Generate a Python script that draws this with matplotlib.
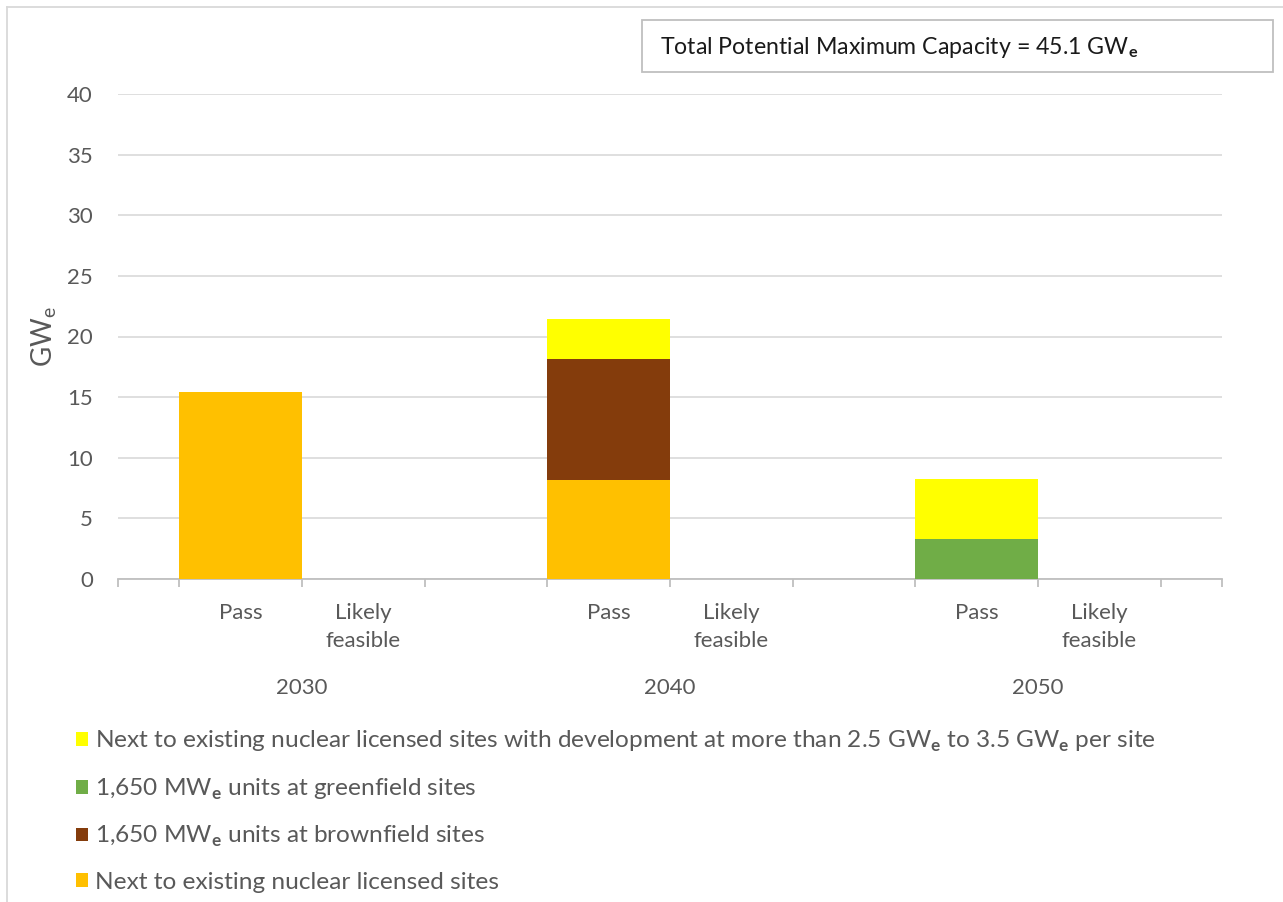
import numpy as np
import matplotlib
matplotlib.use('Agg')
from matplotlib import pyplot as plt
from matplotlib.patches import Patch, Rectangle
from matplotlib.lines import Line2D
from matplotlib.transforms import blended_transform_factory

plt.rcParams['font.family'] = ['Lato', 'DejaVu Sans']
plt.rcParams['mathtext.fontset'] = 'custom'
plt.rcParams['mathtext.rm'] = 'Lato'
plt.rcParams['mathtext.bf'] = 'Lato:bold'

years = ['2030', '2040', '2050']
cases = ['Pass', 'Likely\nfeasible']

# one value per (year, case): 2030 Pass, 2030 Likely, 2040 Pass, ...
existing_sites = [15.4, 0, 8.2, 0, 0, 0]
brownfield = [0, 0, 9.95, 0, 0, 0]
greenfield = [0, 0, 0, 0, 3.3, 0]
existing_large = [0, 0, 3.3, 0, 4.95, 0]

series_labels = [
    'Next to existing nuclear licensed sites',
    '1,650 MW$_\\mathbf{e}$ units at brownfield sites',
    '1,650 MW$_\\mathbf{e}$ units at greenfield sites',
    'Next to existing nuclear licensed sites with development at more than '
    '2.5 GW$_\\mathbf{e}$ to 3.5 GW$_\\mathbf{e}$ per site',
]
colors = ['#FFC000', '#843C0C', '#70AD47', '#FFFF00']
total_text = 'Total Potential Maximum Capacity = 45.1 GW$_\\mathbf{e}$'

grey_txt = '#595959'

fig = plt.figure(figsize=(12.83, 9.02), dpi=100)
ax = fig.add_axes([118/1283, 1 - 579/902, (1222-118)/1283, (579-94)/902])

pos = []
for g in range(len(years)):
    for c in range(len(cases)):
        pos.append(g * 3 + c)
pos = np.array(pos)

bottom = np.zeros(len(pos))
for vals, col, lab in zip([existing_sites, brownfield, greenfield, existing_large], colors, series_labels):
    v = np.array(vals)
    ax.bar(pos, v, width=1.0, bottom=bottom, color=col, label=lab, linewidth=0, zorder=3)
    bottom += v

ax.set_xlim(-1, 8)
ax.set_ylim(0, 40)
ax.set_yticks(np.arange(0, 41, 5))
ax.grid(axis='y', color='#d9d9d9', linewidth=1.2, zorder=0)
for s in ['top', 'right', 'left']:
    ax.spines[s].set_visible(False)
ax.spines['bottom'].set_color('#bfbfbf')
ax.spines['bottom'].set_linewidth(1.3)
ax.tick_params(axis='y', length=0, pad=18, labelsize=16, labelcolor=grey_txt)

ax.set_xticks(pos)
ax.set_xticklabels(cases * len(years), fontsize=16, color=grey_txt, linespacing=1.55)
ax.tick_params(axis='x', which='major', length=0, pad=17)
edges = [-1] + list(np.arange(-0.5, 8, 1.0)) + [8]
ax.set_xticks(edges, minor=True)
ax.tick_params(axis='x', which='minor', length=6, width=1.3, color='#bfbfbf')

trans = blended_transform_factory(ax.transData, ax.transAxes)
for g, yr in enumerate(years):
    ax.text(g * 3 + 0.5, -0.225, yr, transform=trans, ha='center', va='center',
            fontsize=16, color=grey_txt)

ax.set_ylabel('GW$_\\mathregular{e}$', fontsize=20, color=grey_txt, labelpad=6)

# total capacity box
fig.patches.append(Rectangle((642/1283, 1 - 72/902), (1273-642)/1283, 52/902,
                             transform=fig.transFigure, facecolor='white',
                             edgecolor='#bfbfbf', linewidth=1.3))
fig.text(660/1283, 1 - 47/902, total_text, ha='left', va='center', fontsize=16.7, color='#1a1a1a')

# outer chart border (top and left)
fig.add_artist(Line2D([7/1283, 1], [1 - 7/902, 1 - 7/902], transform=fig.transFigure, color='#d9d9d9', lw=1.3))
fig.add_artist(Line2D([7/1283, 7/1283], [0, 1 - 7/902], transform=fig.transFigure, color='#d9d9d9', lw=1.3))

handles = [Patch(facecolor=c, edgecolor='none') for c in colors[::-1]]
fig.legend(handles, series_labels[::-1], loc='upper left',
           bbox_to_anchor=(66/1283, 1 - 719/902), frameon=False,
           fontsize=17.6, labelcolor=grey_txt, handlelength=0.5, handleheight=0.5,
           handletextpad=0.3, labelspacing=0.92, borderaxespad=0)

plt.savefig('out.png', dpi=100)
